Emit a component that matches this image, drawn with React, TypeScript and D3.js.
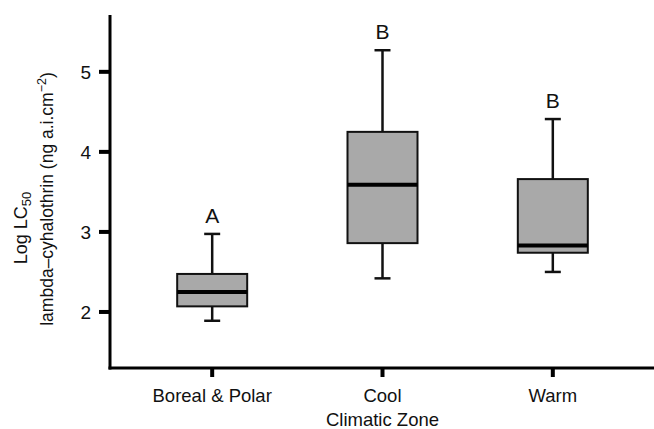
import * as d3 from "d3";
import React from "react";

// climatic zones and box statistics (log LC50)
const zones = ["Boreal & Polar", "Cool", "Warm"];
const whiskerLow = [1.89, 2.42, 2.5];
const q1 = [2.07, 2.86, 2.74];
const median = [2.25, 3.59, 2.83];
const q3 = [2.475, 4.25, 3.66];
const whiskerHigh = [2.975, 5.27, 4.41];
const letters = ["A", "B", "B"];
const yTicks = [2, 3, 4, 5];

const W = 654;
const H = 429;
const font = "'Liberation Sans', Arial, sans-serif";

const App = () => {
  // scales
  const x = d3.scalePoint<string>().domain(zones).range([110, 655]).padding(0.6);
  const y = d3.scaleLinear().domain([1.3, 5.71]).range([368, 15]);
  const boxW = 70;
  const capW = 16;

  return (
    <svg width={W} height={H} style={{ position: "absolute", left: 0, top: 0 }}>
      <rect width={W} height={H} fill="#fff" />
      {/* boxes */}
      {zones.map((z, i) => {
        const cx = x(z)!;
        return (
          <g key={z}>
            <line x1={cx} x2={cx} y1={y(whiskerHigh[i])} y2={y(q3[i])} stroke="#111" strokeWidth={2.5} />
            <line x1={cx} x2={cx} y1={y(q1[i])} y2={y(whiskerLow[i])} stroke="#111" strokeWidth={2.5} />
            <line x1={cx - capW / 2} x2={cx + capW / 2} y1={y(whiskerHigh[i])} y2={y(whiskerHigh[i])} stroke="#111" strokeWidth={2.5} />
            <line x1={cx - capW / 2} x2={cx + capW / 2} y1={y(whiskerLow[i])} y2={y(whiskerLow[i])} stroke="#111" strokeWidth={2.5} />
            <rect x={cx - boxW / 2} y={y(q3[i])} width={boxW} height={y(q1[i]) - y(q3[i])} fill="#a9a9a9" stroke="#111" strokeWidth={2} />
            <line x1={cx - boxW / 2} x2={cx + boxW / 2} y1={y(median[i])} y2={y(median[i])} stroke="#000" strokeWidth={4} />
            <text x={cx} y={y(whiskerHigh[i]) - 11} textAnchor="middle" fontFamily={font} fontSize={21} fill="#111">{letters[i]}</text>
          </g>
        );
      })}
      {/* y axis */}
      <line x1={110} x2={110} y1={15} y2={369.5} stroke="#000" strokeWidth={3} />
      {yTicks.map(t => (
        <g key={t}>
          <line x1={99} x2={110} y1={y(t)} y2={y(t)} stroke="#000" strokeWidth={4} />
          <text x={91} y={y(t)} dy="0.36em" textAnchor="end" fontFamily={font} fontSize={19} fill="#111">{t}</text>
        </g>
      ))}
      {/* x axis */}
      <line x1={108.5} x2={654} y1={368} y2={368} stroke="#000" strokeWidth={3} />
      {zones.map(z => (
        <g key={z}>
          <line x1={x(z)!} x2={x(z)!} y1={368} y2={377} stroke="#000" strokeWidth={4} />
          <text x={x(z)!} y={402} textAnchor="middle" fontFamily={font} fontSize={18.5} fill="#111">{z}</text>
        </g>
      ))}
      <text x={x("Cool")!} y={426} textAnchor="middle" fontFamily={font} fontSize={18.5} fill="#111">Climatic Zone</text>
      {/* y title */}
      <text transform="translate(27,228) rotate(-90)" textAnchor="middle" fontFamily={font} fontSize={18} fill="#111">
        Log LC<tspan fontSize={13} dy={4}>50</tspan>
      </text>
      <text transform="translate(53,199) rotate(-90)" textAnchor="middle" fontFamily={font} fontSize={17.5} fill="#111">
        lambda–cyhalothrin (ng a.i.cm<tspan fontSize={12.5} dy={-7}>−2</tspan><tspan dy={7}>)</tspan>
      </text>
    </svg>
  );
};

export default App;
